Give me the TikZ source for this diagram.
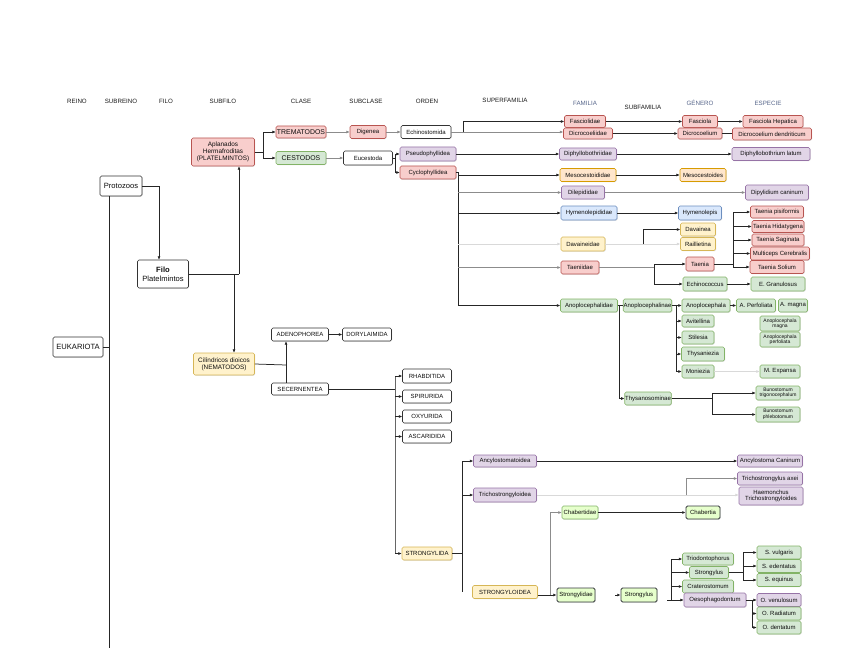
\documentclass[tikz,border=0pt]{standalone}
\usepackage{fontspec}
\setmainfont{Liberation Sans}
\usetikzlibrary{arrows.meta,calc,shadows}
\definecolor{rfill}{HTML}{F8CECC}\definecolor{rdraw}{HTML}{B85450}
\definecolor{gfill}{HTML}{D5E8D4}\definecolor{gdraw}{HTML}{82B366}
\definecolor{pfill}{HTML}{E1D5E7}\definecolor{pdraw}{HTML}{9673A6}
\definecolor{bfill}{HTML}{DAE8FC}\definecolor{bdraw}{HTML}{6C8EBF}
\definecolor{ofill}{HTML}{FFE6CC}\definecolor{odraw}{HTML}{D79B00}
\definecolor{yfill}{HTML}{FFF2CC}\definecolor{ydraw}{HTML}{D6B656}
\definecolor{lgfill}{HTML}{E6FFCC}\definecolor{dkdraw}{HTML}{36393D}
\definecolor{hdblue}{HTML}{56658A}
\tikzset{
  bx/.style={draw, rounded corners=1.5pt, inner sep=0.4pt, align=center, line width=0.6pt,
    font=\fontsize{6}{6.5}\selectfont, text=black!95,
    drop shadow={shadow xshift=0.7pt,shadow yshift=-0.7pt,opacity=0.3}},
  sz/.style 2 args={minimum width=#1, minimum height=#2},
  wb/.style={bx, fill=white, draw=black!80},
  rb/.style={bx, fill=rfill, draw=rdraw},
  gb/.style={bx, fill=gfill, draw=gdraw},
  pb/.style={bx, fill=pfill, draw=pdraw},
  bb/.style={bx, fill=bfill, draw=bdraw},
  ob/.style={bx, fill=ofill, draw=odraw},
  yb/.style={bx, fill=yfill, draw=ydraw},
  lgb/.style={bx, fill=lgfill, draw=gdraw},
  lgd/.style={bx, fill=lgfill, draw=dkdraw, line width=0.9pt},
  big/.style={font=\fontsize{7.6}{8.6}\selectfont},
  mid/.style={font=\fontsize{6.4}{7}\selectfont},
  cls/.style={font=\fontsize{6.9}{7.5}\selectfont},
  sm/.style={font=\fontsize{5}{5.5}\selectfont},
  hd/.style={font=\fontsize{6.2}{7}\selectfont, text=black!90},
  hdb/.style={font=\fontsize{6.2}{7}\selectfont, text=hdblue},
  ln/.style={line width=0.75pt, draw=black!85},
  arr/.style={-{Latex[length=3.3pt,width=3pt]}, line width=0.75pt, draw=black!85},
  gr/.style={draw=black!45},
  lg/.style={draw=black!15},
}
\begin{document}
\begin{tikzpicture}[x=1pt,y=-1pt]
\useasboundingbox (0,0) rectangle (848,655);
% headers
\node[hd] (hreino) at (77,101) {REINO};
\node[hd] (hsubreino) at (121,101) {SUBREINO};
\node[hd] (hfilo) at (166,101) {FILO};
\node[hd] (hsubfilo) at (223,101) {SUBFILO};
\node[hd] (hclase) at (301,101) {CLASE};
\node[hd] (hsubclase) at (366,101) {SUBCLASE};
\node[hd] (horden) at (427,101) {ORDEN};
\node[hd] (hsuperfam) at (505,100) {SUPERFAMILIA};
\node[hdb] (hfam) at (585,103) {FAMILIA};
\node[hd] (hsubfam) at (643,107) {SUBFAMILIA};
\node[hdb] (hgen) at (700,103) {GÉNERO};
\node[hdb] (hesp) at (768,103) {ESPECIE};
% left part
\node[wb,big,sz={50}{20}] (euk) at (78,347) {EUKARIOTA};
\node[wb,big,sz={42}{20}] (proto) at (121,186) {Protozoos};
\node[wb,big,sz={51}{28}] (filo) at (163,274) {\textbf{Filo}\\Platelmintos};
\node[rb,mid,sz={63}{28}] (plat) at (223,152) {Aplanados\\Hermafroditas\\(PLATELMINTOS)};
\node[yb,mid,sz={61}{22}] (nema) at (224,364) {Cilíndricos dioicos\\(NEMATODOS)};
\node[rb,cls,sz={50}{12}] (trem) at (301,132) {TREMATODOS};
\node[gb,cls,sz={50}{13}] (ces) at (301,158) {CESTODOS};
\node[rb,sz={36}{13}] (dig) at (368,132) {Digenea};
\node[wb,sz={49}{14}] (euc) at (368,158) {Eucestoda};
\node[wb,sz={50}{13}] (echino) at (426,132) {Echinostomida};
\node[pb,sz={56}{14}] (pseudo) at (428,154) {Pseudophyllidea};
\node[rb,sz={56}{13}] (cyclo) at (428,172.5) {Cyclophyllidea};
% families
\node[rb,sz={41}{12}] (fasciolidae) at (585,121.5) {Fasciolidae};
\node[rb,sz={49}{11}] (dicro) at (588,133.5) {Dicrocoeliidae};
\node[pb,sz={57}{12}] (diphy) at (588,154) {Diphyllobothriidae};
\node[ob,sz={56}{13}] (meso) at (588,175) {Mesocestoididae};
\node[pb,sz={43}{13}] (dilep) at (583,192.5) {Dilepididae};
\node[bb,sz={56}{14}] (hymeno) at (589,213) {Hymenolepididae};
\node[yb,sz={44}{14}] (davain) at (583,244) {Davaineidae};
\node[rb,sz={38}{13}] (taeni) at (580,267.5) {Taeniidae};
\node[gb,sz={57}{13}] (anoplo) at (589,305.5) {Anoplocephalidae};
\node[gb,sz={48}{13}] (anoplin) at (647.5,305.5) {Anoplocephalinae};
\node[gb,sz={46}{13}] (thysano) at (648,398.5) {Thysanosominae};
% genera
\node[rb,sz={35}{12}] (fasciola) at (700,121.5) {Fasciola};
\node[rb,sz={44}{11}] (dicroc) at (700,133.5) {Dicrocoelium};
\node[ob,sz={46}{13}] (mesoc) at (703,175) {Mesocestoides};
\node[bb,sz={43}{14}] (hymenolepis) at (700,213) {Hymenolepis};
\node[yb,sz={35}{13}] (davainea) at (698,229.5) {Davainea};
\node[yb,sz={35}{13}] (raill) at (698,244) {Raillietina};
\node[rb,sz={28}{14}] (taenia) at (700,264) {Taenia};
\node[gb,sz={44}{14}] (echinoc) at (705,284) {Echinococcus};
\node[gb,sz={48}{13}] (anoplocephala) at (706,305.5) {Anoplocephala};
\node[gb,sz={32}{12}] (avit) at (698,321) {Avitellina};
\node[gb,sz={32}{13}] (stil) at (698,337.5) {Stilesia};
\node[gb,sz={43}{14}] (thysaniezia) at (703,354) {Thysaniezia};
\node[gb,sz={32}{13}] (moniezia) at (698,371.5) {Moniezia};
% species
\node[rb,sz={60}{12}] (fhep) at (773,121.5) {Fasciola Hepatica};
\node[rb,sz={79}{12}] (ddend) at (772,134) {Dicrocoelium dendriticum};
\node[pb,sz={78}{13}] (dlatum) at (771,154) {Diphyllobothrium latum};
\node[pb,sz={63}{15}] (dipyl) at (777,192.5) {Dipylidium caninum};
\node[rb,sz={53}{12}] (tpis) at (777,212) {Taenia pisiformis};
\node[rb,sz={52}{12}] (thid) at (778,226.5) {Taenia Hidatygena};
\node[rb,sz={52}{12}] (tsag) at (778,240) {Taenia Saginata};
\node[rb,sz={59}{13}] (mcer) at (780,253.5) {Multiceps Cerebralis};
\node[rb,sz={54}{13}] (tsol) at (777,267) {Taenia Solium};
\node[gb,sz={54}{14}] (egran) at (778,284) {E. Granulosus};
\node[gb,sz={39}{13}] (aperf) at (756,305.5) {A. Perfoliata};
\node[gb,sz={29}{13}] (amagna) at (793,305.5) {A. magna};
\node[gb,sm,sz={40}{15}] (anm) at (780,323.5) {Anoplocephala\\magna};
\node[gb,sm,sz={40}{15}] (anp) at (780,339.5) {Anoplocephala\\perfoliata};
\node[gb,sz={40}{13}] (mexp) at (780,371.5) {M. Expansa};
\node[gb,sm,sz={44}{14}] (btri) at (778,393) {Bunostomum\\trigonocephalum};
\node[gb,sm,sz={44}{15}] (bphl) at (778,414.5) {Bunostomum\\phlebotomum};
% nematodes
\node[wb,sz={57}{13}] (adeno) at (300,334.5) {ADENOPHOREA};
\node[wb,sz={49}{13}] (dory) at (367,334.5) {DORYLAIMIDA};
\node[wb,sz={57}{12}] (secer) at (300,389) {SECERNENTEA};
\node[wb,sz={49}{14}] (rhab) at (427,376) {RHABDITIDA};
\node[wb,sz={49}{13}] (spir) at (427,396.5) {SPIRURIDA};
\node[wb,sz={49}{13}] (oxy) at (427,416.5) {OXYURIDA};
\node[wb,sz={49}{13}] (asca) at (427,436.5) {ASCARIDIDA};
\node[yb,sz={50}{13}] (strda) at (427,553.5) {STRONGYLIDA};
\node[pb,sz={63}{12}] (ancylo) at (505,461) {Ancylostomatoidea};
\node[pb,sz={63}{14}] (tricho) at (505,495) {Trichostrongyloidea};
\node[yb,sz={65}{13}] (strdea) at (505,592) {STRONGYLOIDEA};
\node[pb,sz={65}{12}] (acan) at (770,461) {Ancylostoma Caninum};
\node[pb,sz={65}{13}] (taxei) at (770,478.5) {Trichostrongylus axei};
\node[pb,sz={64}{18}] (haemon) at (771,496) {Haemonchus\\Trichostrongyloides};
\node[lgb,sz={36}{13}] (chabtd) at (580,512.5) {Chabertidae};
\node[lgd,sz={34}{13}] (chabertia) at (703,512.5) {Chabertia};
\node[lgd,sz={38}{14}] (strtdae) at (576,595) {Strongylidae};
\node[lgd,sz={36}{14}] (strsub) at (639,595) {Strongylus};
\node[gb,sz={51}{12}] (triod) at (708,559) {Triodontophorus};
\node[gb,sz={39}{12}] (strgen) at (709,572.5) {Strongylus};
\node[gb,sz={51}{13}] (crat) at (708,586.5) {Craterostomum};
\node[pb,sz={62}{14}] (oesoph) at (715,600) {Oesophagodontum};
\node[gb,sz={44}{13}] (svul) at (779,552.5) {S. vulgaris};
\node[gb,sz={44}{13}] (sede) at (779,566) {S. edentatus};
\node[gb,sz={44}{13}] (sequ) at (779,580) {S. equinus};
\node[pb,sz={44}{13}] (oven) at (779,600) {O. venulosum};
\node[gb,sz={44}{13}] (orad) at (779,613.5) {O. Radiatum};
\node[gb,sz={44}{13}] (oden) at (779,627.5) {O. dentatum};
% ---------- connectors
\coordinate (vbot) at (109,648);
\draw[ln] (proto.south -| vbot) -- (vbot);
\draw[ln] (euk.east) -- (euk.east -| vbot);
\draw[arr] (proto.east) -| ($(filo.north)+(-4,0)$);
\coordinate (fup) at (239,274);
\coordinate (fdn) at (234,274);
\draw[ln] (filo.east) -- (fup);
\draw[arr] (fup) -- (fup |- plat.south);
\draw[arr] (fdn) -- (fdn |- nema.north);
\coordinate (pv) at (263,152);
\draw[ln] (plat.east) -- (pv);
\draw[arr] (pv) |- (trem.west);
\draw[arr] (pv) |- (ces.west);
\draw[arr,gr] (trem.east) -- (dig.west);
\draw[arr,gr] (ces.east) -- (euc.west);
\draw[arr,gr] (dig.east) -- (echino.west);
\coordinate (ev) at (395,158);
\draw[ln] (euc.east) -- (ev);
\draw[arr] (ev) |- (pseudo.west);
\draw[arr] (ev) |- (cyclo.west);
\coordinate (ov) at (463,132);
\draw[ln,gr] (echino.east) -- (ov);
\draw[arr] (ov) |- (fasciolidae.west);
\draw[arr,gr] (ov) -- (ov -| dicro.west);
\draw[arr] (fasciolidae.east) -- (fasciola.west);
\draw[arr] (fasciola.east) -- (fhep.west);
\draw[arr] (dicro.east) -- (dicroc.west);
\draw[ln] (dicroc.east) -- (dicroc.east -| ddend.west);
\draw[arr] (pseudo.east) -- (diphy.west);
\draw[arr] (diphy.east) -- (dlatum.west);
\coordinate (cv) at (458,172.5);
\draw[ln] (cyclo.east) -- (cv) -- (cv |- anoplo.west);
\draw[arr] (cv |- meso.west) -- (meso.west);
\draw[arr,gr] (cv |- dilep.west) -- (dilep.west);
\draw[arr] (cv |- hymeno.west) -- (hymeno.west);
\draw[arr,lg] (cv |- davain.west) -- (davain.west);
\draw[arr,gr] (cv |- taeni.west) -- (taeni.west);
\draw[arr] (cv |- anoplo.west) -- (anoplo.west);
\draw[arr] (meso.east) -- (mesoc.west);
\draw[arr,gr] (dilep.east) -- (dipyl.west);
\draw[arr] (hymeno.east) -- (hymenolepis.west);
\draw[arr,lg] (davain.east) -- (raill.west);
\coordinate (dv) at (643,244);
\draw[arr] (dv) |- (davainea.west);
\coordinate (tv) at (654,267.5);
\draw[ln,gr] (taeni.east) -- (tv);
\draw[arr] (tv) |- (taenia.west);
\draw[arr] (tv) |- (echinoc.west);
\draw[arr] (echinoc.east) -- (egran.west);
\coordinate (sv1) at (733,264);
\draw[ln] (taenia.east) -- (sv1);
\draw[ln] (sv1 |- tpis.west) -- (sv1 |- tsol.west);
\foreach \n in {tpis,thid,tsag,mcer,tsol} \draw[arr] (sv1 |- \n.west) -- (\n.west);
\draw[ln] (anoplo.east) -- (anoplin.west);
\coordinate (av) at (619,305.5);
\draw[arr] (av) |- (thysano.west);
\coordinate (bv) at (676,305.5);
\draw[ln] (anoplin.east) -- (bv) -- (bv |- moniezia.west);
\foreach \n in {anoplocephala,avit,stil,thysaniezia,moniezia} \draw[arr] (bv |- \n.west) -- (\n.west);
\draw[arr] (anoplocephala.east) -- (aperf.west);
\draw[arr,lg] (moniezia.east) -- (mexp.west);
\coordinate (thv) at (712,398.5);
\draw[ln] (thysano.east) -- (thv);
\draw[arr] (thv) |- (btri.west);
\draw[arr] (thv) |- (bphl.west);
% nematode connectors
\coordinate (nv) at (286,365);
\draw[ln] (nema.east) -- (nv);
\draw[arr] (nv |- secer.north) -- (nv |- adeno.south);
\draw[arr] (adeno.east) -- (dory.west);
\coordinate (sv) at (395,389);
\draw[ln] (secer.east) -- (sv);
\draw[ln,draw=black!60] (sv |- rhab.west) -- (sv |- strda.west);
\foreach \n in {rhab,spir,oxy,asca,strda} \draw[arr] (sv |- \n.west) -- (\n.west);
\coordinate (stv) at (462,553.5);
\draw[ln] (strda.east) -- (stv);
\draw[ln] (stv |- ancylo.west) -- (stv |- strdea.west);
\draw[arr] (stv |- ancylo.west) -- (ancylo.west);
\draw[arr] (stv |- tricho.west) -- (tricho.west);
\draw[arr] (ancylo.east) -- (acan.west);
\draw[arr,lg] (tricho.east) -- (tricho.east -| haemon.west);
\coordinate (trv) at (686,495);
\draw[arr,gr] (trv) |- (taxei.west);
\coordinate (scv) at (550,595);
\draw[arr] (strdea.east |- scv) -- (strtdae.west);
\draw[arr,gr] (scv) |- (chabtd.west);
\draw[arr] (chabtd.east) -- (chabertia.west);
\coordinate (sstub) at (615,595);
\draw[arr] (sstub) -- (strsub.west);
\coordinate (gvb) at (667,600);
\coordinate (gv) at (671,559);
\draw[ln] (gvb) -| (gv);
\foreach \n in {triod,strgen,crat,oesoph} \draw[arr] (gv |- \n.west) -- (\n.west);
\coordinate (sgv) at (743,572.5);
\draw[ln] (strgen.east) -- (sgv);
\draw[ln] (sgv |- svul.west) -- (sgv |- sequ.west);
\foreach \n in {svul,sede,sequ} \draw[arr] (sgv |- \n.west) -- (\n.west);
\draw[arr] (oesoph.east) -- (oven.west);
\coordinate (ogv) at (752,600);
\draw[ln] (ogv) -- (ogv |- oden.west);
\draw[arr] (ogv |- orad.west) -- (orad.west);
\draw[arr] (ogv |- oden.west) -- (oden.west);
\end{tikzpicture}
\end{document}
